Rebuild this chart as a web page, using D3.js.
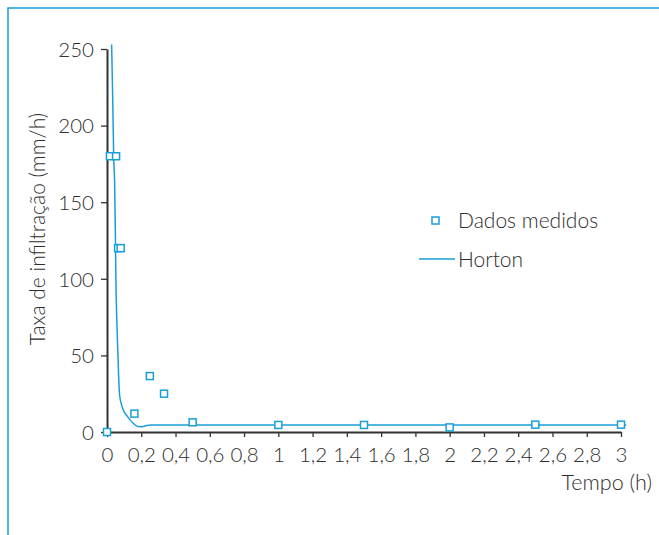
<!DOCTYPE html>
<html>

<head>
    <meta charset="utf-8">
    <style>
        body {
            margin: 0;
            background: #fff;
        }

        text {
            font-family: Lato, "Open Sans", sans-serif;
            font-weight: 300;
            fill: #2e2e2e;
        }
    </style>
</head>

<body>
    <div id="chart"></div>
    <script src="https://d3js.org/d3.v7.min.js"></script>
    <script>

        // measured infiltration rates (h, mm/h)
        const tempoMedido = [0, 0.017, 0.053, 0.065, 0.08, 0.16, 0.25, 0.333, 0.5, 1, 1.5, 2, 2.5, 3]
        const taxaMedida = [0, 180, 180, 120, 120, 12, 36.5, 25, 6.3, 4.6, 4.6, 3, 4.8, 4.8]

        // Horton curve
        const tempoHorton = [0.027, 0.033, 0.039, 0.045, 0.049, 0.052, 0.06, 0.064, 0.068, 0.074, 0.093, 0.12, 0.15, 0.18, 0.205, 0.23, 0.26, 0.5, 1, 2, 3.03]
        const taxaHorton = [253, 220, 180, 160, 128, 100, 63, 50, 36.5, 23.5, 15, 10, 6, 3.6, 3.5, 4.2, 4.6, 4.6, 4.6, 4.6, 4.6]

        const xTicks = d3.range(0, 3.01, 0.2)
        const yTicks = [0, 50, 100, 150, 200, 250]

        const legendItems = ["Dados medidos", "Horton"]

        const width = 659
        const height = 535
        const blue = "#1a9ed9"
        const ink = "#333"

        const pt = d3.formatLocale({ decimal: ",", thousands: ".", grouping: [3], currency: ["", ""] })
        const fmt = v => pt.format("~r")(+v.toFixed(1))

        const x = d3.scaleLinear().domain([0, 3]).range([107, 621])
        const y = d3.scaleLinear().domain([0, 250]).range([432, 49])

        const svg = d3.select("#chart")
            .append("svg")
            .attr("width", width)
            .attr("height", height)

        // open frame, top and left
        svg.append("path")
            .attr("d", "M8,535V8H659")
            .attr("fill", "none")
            .attr("stroke", blue)
            .attr("stroke-width", 1.5)

        const xAxis = svg.append("g")
            .attr("transform", `translate(0,${y(0)})`)
            .call(d3.axisBottom(x).tickValues(xTicks).tickFormat(fmt).tickSize(5).tickPadding(8).tickSizeOuter(0))

        const yAxis = svg.append("g")
            .attr("transform", `translate(${x(0)},0)`)
            .call(d3.axisLeft(y).tickValues(yTicks).tickSize(6).tickPadding(7).tickSizeOuter(0))

        svg.selectAll(".domain").attr("stroke", ink).attr("stroke-width", 2)
        svg.selectAll(".tick line").attr("stroke", ink).attr("stroke-width", 1.3)
        svg.selectAll(".tick text")
            .attr("fill", "#2e2e2e")
            .style("font-size", "20.5px")
            .style("font-family", "Lato, sans-serif")
        yAxis.selectAll(".tick text").attr("dy", "0.36em")
        xAxis.selectAll(".tick text").attr("dy", "0.85em")

        // axis titles
        svg.append("text")
            .attr("transform", "translate(45,229) rotate(-90)")
            .attr("text-anchor", "middle")
            .style("font-size", "21px")
            .text("Taxa de infiltração (mm/h)")

        svg.append("text")
            .attr("x", 652)
            .attr("y", 490)
            .attr("text-anchor", "end")
            .style("font-size", "21.5px")
            .text("Tempo (h)")

        // Horton line
        const horton = d3.zip(tempoHorton, taxaHorton)
        svg.append("path")
            .datum(horton)
            .attr("fill", "none")
            .attr("stroke", blue)
            .attr("stroke-width", 1.5)
            .attr("d", d3.line()
                .x(d => x(d[0]))
                .y(d => y(d[1]))
                .curve(d3.curveMonotoneX))

        // measured points
        const medidos = d3.zip(tempoMedido, taxaMedida)
        svg.append("g")
            .selectAll("rect")
            .data(medidos)
            .enter().append("rect")
            .attr("x", d => x(d[0]) - 3.5)
            .attr("y", d => y(d[1]) - 3.5)
            .attr("width", 7)
            .attr("height", 7)
            .attr("fill", "white")
            .attr("stroke", blue)
            .attr("stroke-width", 1.5)

        // legend
        const legend = svg.append("g")
        legend.append("rect")
            .attr("x", 432)
            .attr("y", 217)
            .attr("width", 7)
            .attr("height", 7)
            .attr("fill", "white")
            .attr("stroke", blue)
            .attr("stroke-width", 1.5)
        legend.append("line")
            .attr("x1", 419).attr("x2", 455)
            .attr("y1", 259).attr("y2", 259)
            .attr("stroke", blue)
            .attr("stroke-width", 1.5)
        legend.selectAll("text")
            .data(legendItems)
            .enter().append("text")
            .attr("x", 458)
            .attr("y", (d, i) => 220 + i * 39)
            .attr("dy", "0.36em")
            .style("font-size", "21px")
            .text(d => d)

    </script>
</body>

</html>
